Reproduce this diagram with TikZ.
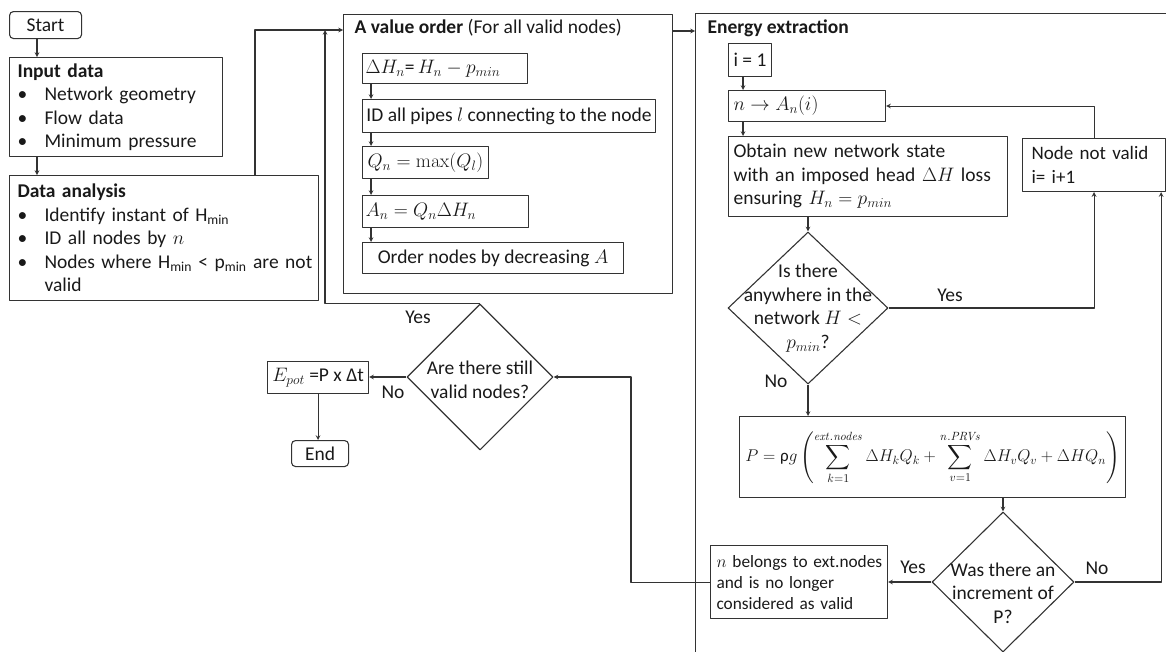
\documentclass[tikz,border=0pt]{standalone}
\usepackage{fix-cm}
\usepackage{amsmath}
\usepackage{exscale}
\usepackage[no-math]{fontspec}
\setmainfont{Carlito}
\usetikzlibrary{shapes.geometric}
\newcommand{\bitem}[1]{\makebox[27pt][l]{\textbullet}#1}
\begin{document}
\begin{tikzpicture}[x=1pt, y=-1pt, line join=round, >=stealth, line width=1.1pt,
	every node/.style={font=\fontsize{19.5}{23.5}\selectfont, text=black!90},
	box/.style={draw=black!80, rectangle, anchor=north west, inner sep=0pt, inner xsep=5pt},
	term/.style={box, rounded corners=4pt, align=center},
	test/.style={draw=black!80, diamond, inner sep=0pt},
	flow/.style={draw=black!80, ->},
	tag/.style={inner sep=0pt}]
	\useasboundingbox (0,0) rectangle (1166,651);
	\clip (0,0) rectangle (1166,651);
	% left column
	\node[term, minimum width=72pt, minimum height=27pt] (start) at (9,11) {Start};
	\node[box, minimum height=99pt, text width=197pt, inner xsep=8pt, align=left] (input) at (9,57)
		{\textbf{Input data}\\\bitem{Network geometry}\\\bitem{Flow data}\\\bitem{Minimum pressure}};
	\node[box, minimum height=125pt, text width=293pt, inner xsep=8pt, align=left] (data) at (9,175)
		{\textbf{Data analysis}\\\bitem{Identify instant of H\textsubscript{min}}\\\bitem{ID all nodes by $n$}\\
		\bitem{\mbox{Nodes where H\textsubscript{min} < p\textsubscript{min} are not}}\\\hspace*{27pt}valid};
	% A value order
	\node[box, minimum width=329pt, minimum height=279pt] (avo) at (343,14) {};
	\node[tag, anchor=west] (avot) at (354,28) {\textbf{A value order} (For all valid nodes)};
	\node[box, minimum width=165pt, minimum height=30pt, text width=159pt, inner xsep=3pt, align=left] (d1) at (362,53)
		{$\Delta H_n$=\,$H_n-p_{min}$};
	\node[box, minimum width=293pt, minimum height=33pt, inner xsep=1pt] (d2) at (362,99) {ID all pipes $l$ connecting to the node};
	\node[box, minimum width=120pt, minimum height=32pt] (d3) at (362,146) {$Q_n=\max(Q_l)$};
	\node[box, minimum width=166pt, minimum height=32pt, text width=160pt, inner xsep=3pt, align=left] (d4) at (362,195)
		{$A_n=Q_n\Delta H_n$};
	\node[box, minimum width=261pt, minimum height=31pt] (d5) at (362,242) {Order nodes by decreasing $A$};
	% energy extraction
	\node[box, minimum width=490pt, minimum height=660pt] (energy) at (695,13) {};
	\node[tag, anchor=west] (energyt) at (707,28) {\textbf{Energy extraction}};
	\node[box, minimum width=42pt, minimum height=33pt] (e1) at (728,43) {i = 1};
	\node[box, minimum width=157pt, minimum height=31pt, text width=147pt, align=left] (e2) at (728,90) {$n\to A_n(i)$};
	\node[box, minimum height=80pt, text width=269pt, align=left] (e3) at (728,136)
		{\mbox{Obtain new network state}\\\mbox{with an imposed head $\Delta H$ loss}\\\mbox{ensuring $H_n=p_{min}$}};
	\node[box, minimum height=53pt, text width=125pt, inner xsep=9pt, align=left,
		font=\fontsize{19}{23.5}\selectfont] (nv) at (1022,138) {Node not valid\\i= i+1};
	\node[test, minimum width=160pt, minimum height=152pt] (q1) at (808,308) {};
	\node[tag, align=center] (q1t) at (q1) {Is there\\anywhere in the\\network $H<$\\$p_{min}$?};
	\node[box, minimum width=386pt, minimum height=81pt, font=\fontsize{17}{21}\selectfont] (pb) at (739,416)
		{$\displaystyle P=\mbox{ρ}g\left(\sum_{k=1}^{\mathit{ext.nodes}}\Delta H_kQ_k+\sum_{v=1}^{\mathit{n.PRVs}}\Delta H_vQ_v+\Delta HQ_n\right)$};
	\node[test, minimum width=142pt, minimum height=140pt] (q2) at (1003,582) {};
	\node[tag, align=center] (q2t) at (1003,593) {Was there an\\increment of\\P?};
	\node[box, minimum height=73pt, text width=165pt, inner xsep=6pt, align=left,
		font=\fontsize{17.3}{21}\selectfont] (nb) at (710,545)
		{\mbox{$n$ belongs to ext.nodes}\\and is no longer\\considered as valid};
	% end part
	\node[test, minimum width=146pt, minimum height=146pt] (dv) at (480,377) {};
	\node[tag, align=center] (dvt) at (480,380) {Are there still\\valid nodes?};
	\node[box, minimum width=101pt, minimum height=32pt, inner xsep=2pt] (ep) at (267,361) {$E_{pot}$ =P x Δt};
	\node[term, minimum width=57pt, minimum height=26pt] (endn) at (291,440) {End};
	% labels
	\node[tag] (yes1) at (418,317) {Yes};
	\node[tag] (no1) at (393,392) {No};
	\node[tag] (yes2) at (950,295) {Yes};
	\node[tag] (no2) at (776,381) {No};
	\node[tag] (yes3) at (913,567) {Yes};
	\node[tag] (no3) at (1097,568) {No};
	% connectors
	\coordinate (back) at (325,30);
	\draw[flow] ([xshift=28pt]start.south west) -- ([xshift=28pt]input.north west);
	\draw[flow] ([xshift=28pt]input.south west) -- ([xshift=28pt]data.north west);
	\draw[flow] ([xshift=246pt]data.north west) |- ([yshift=-16pt]avo.north west);
	\draw[flow] (dv.north) -| (back);
	\draw[flow] ([yshift=-17pt]avo.north east) -- ([yshift=-18pt]energy.north west);
	\foreach \a/\b in {d1/d2,d2/d3,d3/d4,d4/d5}
		\draw[flow] ([xshift=9pt]\a.south west) -- ([xshift=9pt]\b.north west);
	\foreach \a/\b in {e1/e2,e2/e3}
		\draw[flow] ([xshift=15pt]\a.south west) -- ([xshift=15pt]\b.north west);
	\draw[flow] (e3.south -| q1.north) -- (q1.north);
	\draw[flow] (q1.east) -| (nv.south);
	\draw[flow] (nv.north) |- (e2.east);
	\draw[flow] (q1.south) -- (q1.south |- pb.north);
	\draw[flow] (pb.south -| q2.north) -- (q2.north);
	\draw[flow] (q2.west) -- (q2.west -| nb.east);
	\draw[flow] (q2.east) -| ([xshift=-5pt]nv.south east);
	\draw[flow] (nb.west) -- ++(-79,0) |- (dv.east);
	\draw[flow] (dv.west) -- (dv.west -| ep.east);
	\draw[flow] (ep.south) -- (ep.south |- endn.north);
\end{tikzpicture}
\end{document}
